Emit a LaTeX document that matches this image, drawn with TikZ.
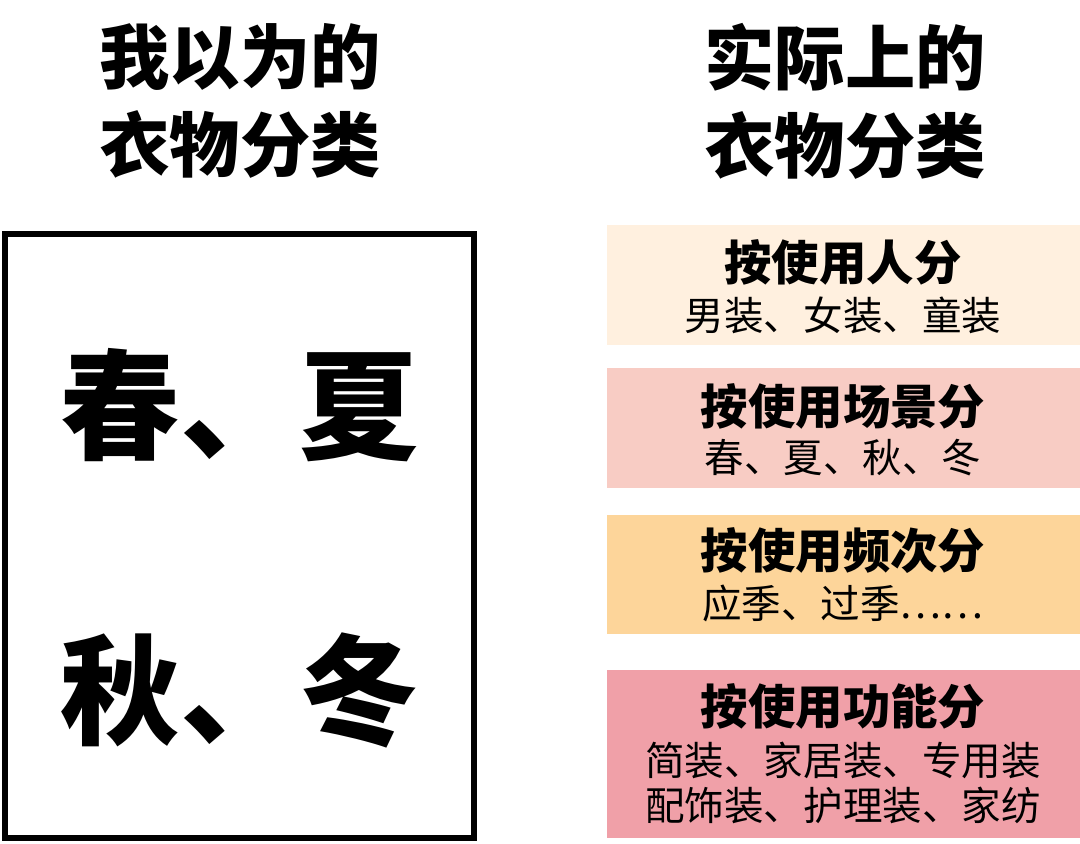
\documentclass[tikz,border=0pt]{standalone}
\usepackage{fontspec}
\newfontfamily\cjk{Noto Sans CJK SC}
\definecolor{boxA}{HTML}{FFF0DF}
\definecolor{boxB}{HTML}{F8CCC4}
\definecolor{boxC}{HTML}{FDD59A}
\definecolor{boxD}{HTML}{F0A0A8}
\tikzset{
  title/.style={font=\cjk\bfseries\fontsize{40}{50}\selectfont, align=center},
  bigword/.style={font=\cjk\bfseries\fontsize{68}{76}\selectfont},
  head/.style={font=\cjk\bfseries\fontsize{27}{30}\selectfont},
  sub/.style={font=\cjk\fontsize{22.5}{26}\selectfont, align=center}
}
\begin{document}
\begin{tikzpicture}[x=0.02cm,y=-0.02cm]
	\useasboundingbox (0,0) rectangle (1080,844);
	% titles
	\node[title] (tleft) at (240,101) {我以为的\\衣物分类};
	\node[title] (tright) at (845,101) {实际上的\\衣物分类};
	% left frame
	\draw[line width=0.12cm] (5,234) rectangle (474,838);
	\node[bigword] (spring) at (240,405) {春、夏};
	\node[bigword] (autumn) at (240,690) {秋、冬};
	% right categories
	\fill[boxA] (607,225) rectangle (1080,345);
	\fill[boxB] (607,368) rectangle (1080,488);
	\fill[boxC] (607,515) rectangle (1080,634);
	\fill[boxD] (607,670) rectangle (1080,838);
	\node[head] (whoH) at (843,262) {按使用人分};
	\node[sub] (whoS) at (843,315) {男装、女装、童装};
	\node[head] (sceneH) at (843,406) {按使用场景分};
	\node[sub] (sceneS) at (843,458) {春、夏、秋、冬};
	\node[head] (freqH) at (843,551) {按使用频次分};
	\node[sub] (freqS) at (843,603) {应季、过季……};
	\node[head] (funcH) at (843,706) {按使用功能分};
	\node[sub] (funcS) at (843,783) {简装、家居装、专用装\\配饰装、护理装、家纺};
\end{tikzpicture}
\end{document}
